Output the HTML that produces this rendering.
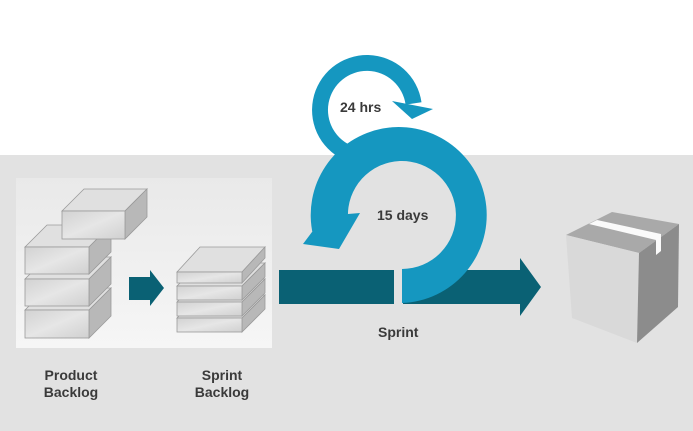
<!DOCTYPE html>
<html><head><meta charset="utf-8"><style>
html,body{margin:0;padding:0;background:#fff;}
svg{display:block}
text{font-family:"Liberation Sans","DejaVu Sans",sans-serif;font-weight:bold;fill:#3a3a3a;font-size:14px}
</style></head><body>
<svg width="693" height="431" viewBox="0 0 693 431" xmlns="http://www.w3.org/2000/svg">
<defs>
<linearGradient id="pan" x1="0" y1="0" x2="0" y2="1"><stop offset="0" stop-color="#e9e9e9"/><stop offset="1" stop-color="#f6f6f6"/></linearGradient>
<linearGradient id="fr" x1="0" y1="0" x2="1" y2="1"><stop offset="0" stop-color="#d2d2d2"/><stop offset="0.5" stop-color="#e6e6e6"/><stop offset="1" stop-color="#d0d0d0"/></linearGradient>
</defs>
<rect x="0" y="0" width="693" height="155" fill="#fff"/>
<rect x="0" y="155" width="693" height="276" fill="#e2e2e2"/>
<rect x="16" y="178" width="256" height="170" fill="url(#pan)"/>

<g stroke="#9a9a9a" stroke-width="0.8">
<g>
<polygon points="25,310 47,288 111,288 89,310" fill="#e0e0e0"/>
<polygon points="89,310 111,288 111,316 89,338" fill="#b8b8b8"/>
<rect x="25" y="310" width="64" height="28" fill="url(#fr)"/>
</g>
<g>
<polygon points="25,279 47,257 111,257 89,279" fill="#e0e0e0"/>
<polygon points="89,279 111,257 111,284 89,306" fill="#b8b8b8"/>
<rect x="25" y="279" width="64" height="27" fill="url(#fr)"/>
</g>
<g>
<polygon points="25,247 47,225 111,225 89,247" fill="#e0e0e0"/>
<polygon points="89,247 111,225 111,252 89,274" fill="#b8b8b8"/>
<rect x="25" y="247" width="64" height="27" fill="url(#fr)"/>
</g>
<g>
<polygon points="62,211 84,189 147,189 125,211" fill="#e0e0e0"/>
<polygon points="125,211 147,189 147,217 125,239" fill="#b8b8b8"/>
<rect x="62" y="211" width="63" height="28" fill="url(#fr)"/>
</g>
<g>
<polygon points="177,318 200,295 265,295 242,318" fill="#e0e0e0"/>
<polygon points="242,318 265,295 265,309 242,332" fill="#b8b8b8"/>
<rect x="177" y="318" width="65" height="14" fill="url(#fr)"/>
</g>
<g>
<polygon points="177,302 200,279 265,279 242,302" fill="#e0e0e0"/>
<polygon points="242,302 265,279 265,293 242,316" fill="#b8b8b8"/>
<rect x="177" y="302" width="65" height="14" fill="url(#fr)"/>
</g>
<g>
<polygon points="177,286 200,263 265,263 242,286" fill="#e0e0e0"/>
<polygon points="242,286 265,263 265,277 242,300" fill="#b8b8b8"/>
<rect x="177" y="286" width="65" height="14" fill="url(#fr)"/>
</g>
<g>
<polygon points="177,272 200,247 265,247 242,272" fill="#e0e0e0"/>
<polygon points="242,272 265,247 265,258 242,283" fill="#b8b8b8"/>
<rect x="177" y="272" width="65" height="11" fill="url(#fr)"/>
</g>
</g>
<polygon points="129,277 150,277 150,270 164,288 150,306 150,300 129,300" fill="#0a6174"/>

<rect x="279" y="270" width="115" height="34" fill="#0a6174"/>
<polygon points="403,270 520,270 520,258 541,287 520,316 520,304 403,304" fill="#0a6174"/>

<!-- small ring -->
<path d="M348.2 161.7 A55 55 0 1 1 421.5 102.3 L405.6 104.6 A39 39 0 1 0 353.7 146.6 Z" fill="#1597c0"/>
<polygon points="392,101 433,109 412,119" fill="#1597c0"/>
<!-- big ring -->
<path d="M402 303 A88 88 0 1 0 313 235 L348 218 A54 54 0 1 1 402 269 Z" fill="#1597c0"/>
<polygon points="303,244 339,249 360,213 348,214 312,232" fill="#1597c0"/>

<polygon points="566,235 612,212 679,224 639,253" fill="#a9a9a9"/>
<polygon points="566,235 639,253 637,343 572,318" fill="#d9d9d9"/>
<polygon points="639,253 679,224 678,307 637,343" fill="#8c8c8c"/>
<polygon points="589,224 597,220 661,234 661,251 656,255 656,240" fill="#fafafa"/>

<text x="340" y="112">24 hrs</text>
<text x="377" y="220">15 days</text>
<text x="378" y="337">Sprint</text>
<text x="71" y="380" text-anchor="middle">Product</text>
<text x="71" y="397" text-anchor="middle">Backlog</text>
<text x="222" y="380" text-anchor="middle">Sprint</text>
<text x="222" y="397" text-anchor="middle">Backlog</text>
</svg>
</body></html>
